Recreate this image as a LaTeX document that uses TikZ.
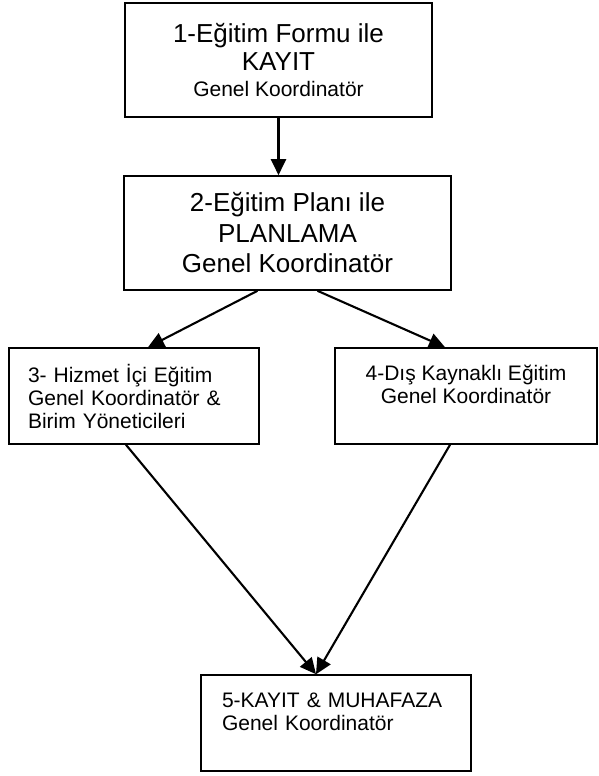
\documentclass[tikz,border=0pt]{standalone}
\usepackage{fontspec}
\setmainfont{Liberation Sans}
\usepackage{tikz}
\usetikzlibrary{arrows.meta}

\begin{document}
\begin{tikzpicture}[x=1pt,y=-1pt,
    kutu/.style={draw,line width=1.6pt,inner sep=0pt},
    ok/.style={-{Triangle[length=16pt,width=15pt]},line width=2.1pt}]
        \def\buyuk{\fontsize{26}{28.3}\selectfont}
        \def\kucuk{\fontsize{21}{23}\selectfont}
        \useasboundingbox (0,0) rectangle (598,776);

        % kutular
        \node[kutu,minimum width=307pt,minimum height=114pt,align=center,font=\buyuk]
          (kayit) at (278.5,60) {1-Eğitim Formu ile\\KAYIT\\[-2.3pt]{\fontsize{21}{21}\selectfont Genel Koordinatör}};
        \node[kutu,minimum width=327pt,minimum height=114pt,align=center,font=\fontsize{26}{30.5}\selectfont]
          (planlama) at (287.5,233) {2-Eğitim Planı ile\\PLANLAMA\\Genel Koordinatör};
        \node[kutu,minimum width=250pt,minimum height=96pt,text width=212pt,inner xsep=19pt,align=left,font=\kucuk]
          (hizmet) at (134,396) {3- Hizmet İçi Eğitim\\Genel Koordinatör \&\\Birim Yöneticileri};
        \node[kutu,minimum width=262pt,minimum height=96pt,align=center,font=\kucuk]
          (dis) at (466,396) {4-Dış Kaynaklı Eğitim\\Genel Koordinatör\\\mbox{}};
        \node[kutu,minimum width=270pt,minimum height=96pt,text width=228pt,inner xsep=21pt,align=left,font=\kucuk]
          (muhafaza) at (336,723) {5-KAYIT \& MUHAFAZA\\Genel Koordinatör\\\mbox{}};

        % oklar
        \draw[ok] (kayit.south)--(kayit.south |- planlama.north);
        \draw[ok] ([xshift=-30pt]planlama.south)--([xshift=14pt]hizmet.north);
        \draw[ok] ([xshift=30pt]planlama.south)--([xshift=-21pt]dis.north);
        \draw[ok] ([xshift=-8pt]hizmet.south)--([xshift=-20pt]muhafaza.north);
        \draw[ok] ([xshift=-16pt]dis.south)--([xshift=-20pt]muhafaza.north);
      \end{tikzpicture}
\end{document}
